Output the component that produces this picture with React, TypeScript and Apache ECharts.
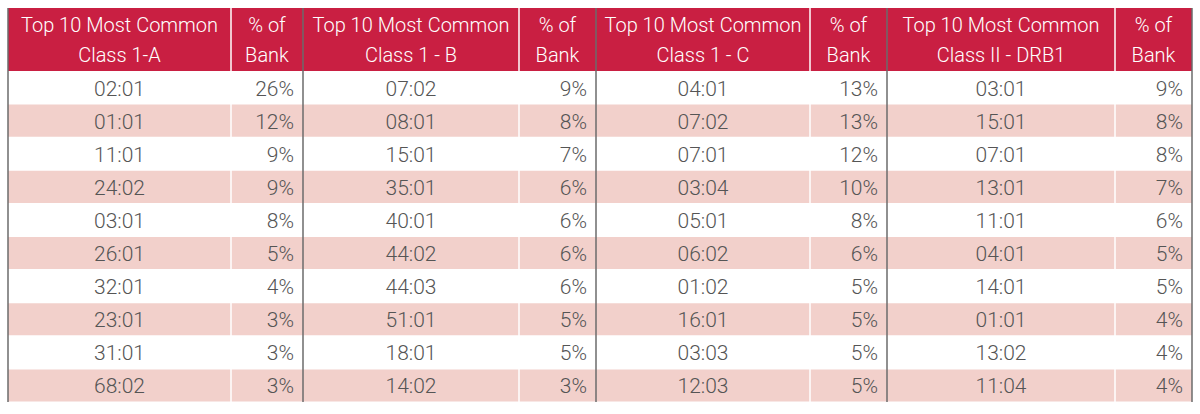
import React, { useEffect, useRef } from "react";
import * as echarts from "echarts";

const groupTitles = [
  "Top 10 Most Common\nClass 1-A",
  "Top 10 Most Common\nClass 1 - B",
  "Top 10 Most Common\nClass 1 - C",
  "Top 10 Most Common\nClass II - DRB1",
];
const pctHeader = "% of\nBank";

const classA = ["02:01", "01:01", "11:01", "24:02", "03:01", "26:01", "32:01", "23:01", "31:01", "68:02"];
const classAPct = [26, 12, 9, 9, 8, 5, 4, 3, 3, 3];
const classB = ["07:02", "08:01", "15:01", "35:01", "40:01", "44:02", "44:03", "51:01", "18:01", "14:02"];
const classBPct = [9, 8, 7, 6, 6, 6, 6, 5, 5, 3];
const classC = ["04:01", "07:02", "07:01", "03:04", "05:01", "06:02", "01:02", "16:01", "03:03", "12:03"];
const classCPct = [13, 13, 12, 10, 8, 6, 5, 5, 5, 5];
const drb1 = ["03:01", "15:01", "07:01", "13:01", "11:01", "04:01", "14:01", "01:01", "13:02", "11:04"];
const drb1Pct = [9, 8, 8, 7, 6, 5, 5, 4, 4, 4];

const groupNames = [classA, classB, classC, drb1];
const groupPcts = [classAPct, classBPct, classCPct, drb1Pct];

export default function App() {
  const ref = useRef<HTMLDivElement>(null);
  useEffect(() => {
    if (!ref.current) return;
    const chart = echarts.init(ref.current, undefined, { renderer: "svg" });
    const edges = [8, 303, 596, 887, 1192];
    const splits = [231, 519, 810, 1115];
    const top = 8;
    const headBottom = 71;
    const bottom = 402;
    const rowH = (bottom - headBottom) / 10;
    const red = "#C91F42";
    const pink = "#F2D0CB";
    const textColor = "#555555";
    const font = "Roboto";
    const els: any[] = [];
    els.push({ type: "rect", shape: { x: edges[0], y: top, width: edges[4] - edges[0], height: headBottom - top }, style: { fill: red } });
    for (let r = 1; r < 10; r += 2) {
      const y = headBottom + r * rowH;
      els.push({ type: "rect", shape: { x: edges[0], y: y + 0.5, width: edges[4] - edges[0], height: rowH - 1 }, style: { fill: pink } });
    }
    splits.forEach((sx) => {
      els.push({ type: "line", shape: { x1: sx, y1: top, x2: sx, y2: bottom }, style: { stroke: "#ffffff", lineWidth: 1.5 } });
    });
    edges.forEach((ex) => {
      els.push({ type: "line", shape: { x1: ex, y1: top, x2: ex, y2: bottom }, style: { stroke: "#6b6b6b", lineWidth: 1.5 } });
    });
    for (let g = 0; g < 4; g++) {
      const lines = groupTitles[g].split("\n");
      const cx = (edges[g] + splits[g]) / 2;
      const px = (splits[g] + edges[g + 1]) / 2;
      const pl = pctHeader.split("\n");
      [0, 1].forEach((i) => {
        const y = 25 + i * 30;
        els.push({ type: "text", x: cx, y, style: { text: lines[i], fill: "#ffffff", font: `300 20px ${font}`, align: "center", verticalAlign: "middle" } });
        els.push({ type: "text", x: px, y, style: { text: pl[i], fill: "#ffffff", font: `300 20px ${font}`, align: "center", verticalAlign: "middle" } });
      });
      for (let r = 0; r < 10; r++) {
        const y = headBottom + r * rowH + rowH / 2 + 1;
        els.push({ type: "text", x: cx, y, style: { text: groupNames[g][r], fill: textColor, font: `300 21px ${font}`, align: "center", verticalAlign: "middle" } });
        els.push({ type: "text", x: edges[g + 1] - 9, y, style: { text: groupPcts[g][r] + "%", fill: textColor, font: `300 21px ${font}`, align: "right", verticalAlign: "middle" } });
      }
    }
    chart.setOption({ animation: false, graphic: { elements: els } });
    return () => chart.dispose();
  }, []);
  return <div ref={ref} style={{ position: "absolute", left: 0, top: 0, width: 1200, height: 414, background: "#fff" }} />;
}
